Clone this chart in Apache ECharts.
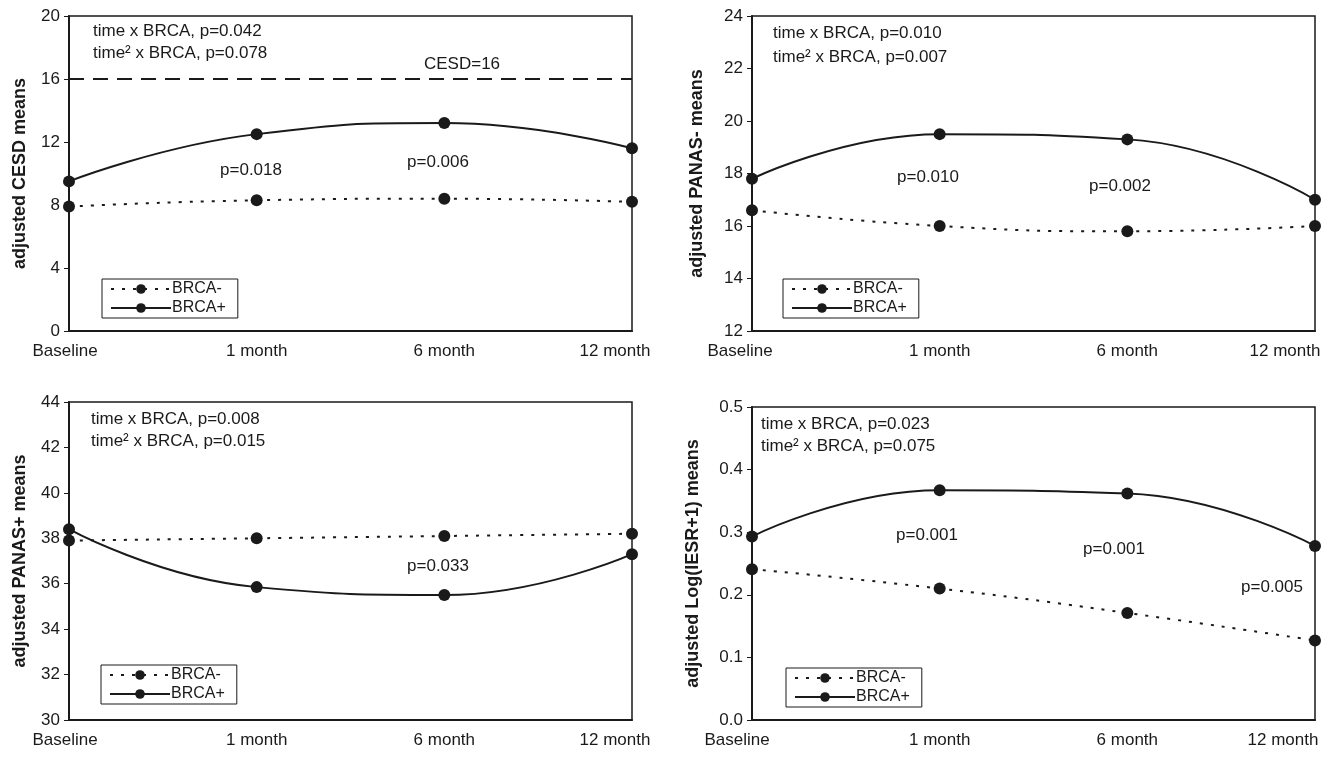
<!DOCTYPE html>
<html>
<head>
<meta charset="utf-8">
<title>BRCA adjusted means</title>
<script src="https://cdn.jsdelivr.net/npm/echarts@6/dist/echarts.min.js"></script>
<style>
  html, body { margin: 0; padding: 0; background: #fff; }
  #main { width: 1336px; height: 757px; }
</style>
</head>
<body>
<div id="main"></div>
<script>
// time points
var categories = ["Baseline", "1 month", "6 month", "12 month"];

// CESD
var cesdNeg = [7.9, 8.3, 8.4, 8.2];
var cesdPos = [9.5, 12.5, 13.2, 11.6];
var cesdCutoff = 16;

// PANAS-
var panasNegNeg = [16.6, 16.0, 15.8, 16.0];
var panasNegPos = [17.8, 19.5, 19.3, 17.0];

// PANAS+
var panasPosNeg = [37.9, 38.0, 38.1, 38.2];
var panasPosPos = [38.4, 35.85, 35.5, 37.3];

// Log(IESR+1)
var iesrNeg = [0.241, 0.21, 0.171, 0.127];
var iesrPos = [0.293, 0.367, 0.362, 0.278];

// y ranges: [min, max, interval]
var cesdRange = [0, 20, 4];
var panasNegRange = [12, 24, 2];
var panasPosRange = [30, 44, 2];
var iesrRange = [0, 0.5, 0.1];

var FONT = "'Liberation Sans', Arial, Helvetica, sans-serif";
var INK = "#1a1a1a";

var myChart = echarts.init(document.getElementById("main"));

// plot boxes of the four panels
var grids = [
  { left: 69, top: 16, width: 563, height: 315 },
  { left: 752, top: 16, width: 563, height: 315 },
  { left: 69, top: 402, width: 563, height: 318 },
  { left: 752, top: 407, width: 563, height: 313 }
];
// label shifts for first / last category (padding on the opposite side)
var labelPad = [
  [8, 34],
  [24, 60],
  [8, 34],
  [30, 64]
];

function xAxisFor(i) {
  var pad = labelPad[i];
  return {
    gridIndex: i,
    type: "category",
    data: categories,
    boundaryGap: false,
    axisLine: { lineStyle: { color: INK, width: 2 } },
    axisTick: { show: false },
    axisLabel: {
      margin: 12,
      interval: 0,
      color: INK,
      fontFamily: FONT,
      fontSize: 17,
      formatter: function (v, idx) {
        if (idx === 0) return "{first|" + v + "}";
        if (idx === categories.length - 1) return "{last|" + v + "}";
        return v;
      },
      rich: {
        first: { fontFamily: FONT, fontSize: 17, color: INK, padding: [0, pad[0], 0, 0] },
        last: { fontFamily: FONT, fontSize: 17, color: INK, padding: [0, pad[1], 0, 0] }
      }
    }
  };
}

function yAxisFor(i, range, title, gap, digits) {
  return {
    gridIndex: i,
    type: "value",
    min: range[0],
    max: range[1],
    interval: range[2],
    name: title,
    nameLocation: "middle",
    nameRotate: 90,
    nameGap: gap,
    nameTextStyle: { fontFamily: FONT, fontSize: 18, fontWeight: "bold", color: INK },
    splitLine: { show: false },
    axisLine: { show: true, lineStyle: { color: INK, width: 2 } },
    axisTick: { show: true, length: 5, lineStyle: { color: INK, width: 1 } },
    axisLabel: {
      margin: 9,
      color: INK,
      fontFamily: FONT,
      fontSize: 17,
      formatter: function (v) {
        return digits ? v.toFixed(digits) : String(v);
      }
    }
  };
}

function negSeries(i, data) {
  return {
    name: "BRCA-",
    type: "line",
    xAxisIndex: i,
    yAxisIndex: i,
    data: data,
    smooth: 0.5,
    symbol: "circle",
    symbolSize: 12,
    itemStyle: { color: INK },
    lineStyle: { color: INK, width: 2, type: [3, 8] },
    z: 3
  };
}

function posSeries(i, data) {
  return {
    name: "BRCA+",
    type: "line",
    xAxisIndex: i,
    yAxisIndex: i,
    data: data,
    smooth: 0.5,
    symbol: "circle",
    symbolSize: 12,
    itemStyle: { color: INK },
    lineStyle: { color: INK, width: 2, type: "solid" },
    z: 4
  };
}

function legendAt(left, top) {
  return {
    left: left,
    top: top,
    orient: "vertical",
    data: ["BRCA-", "BRCA+"],
    selectedMode: false,
    itemWidth: 60,
    itemHeight: 12,
    itemGap: 3,
    backgroundColor: "#fff",
    borderColor: INK,
    borderWidth: 1,
    borderRadius: 0,
    padding: [2, 12, 2, 8],
    textStyle: { fontFamily: FONT, fontSize: 16, color: INK, padding: [0, 0, 0, -4] }
  };
}

// text notes on the panels
function note(text, x, y, align) {
  return {
    type: "text",
    x: x,
    y: y,
    z: 10,
    style: {
      text: text,
      fill: INK,
      font: "17px " + FONT,
      align: align || "center",
      verticalAlign: "middle"
    }
  };
}

var cesdNegSeries = negSeries(0, cesdNeg);
cesdNegSeries.markLine = {
  silent: true,
  symbol: "none",
  label: { show: false },
  lineStyle: { color: INK, width: 2, type: [15, 9] },
  data: [{ yAxis: cesdCutoff }]
};

myChart.setOption({
  animation: false,
  backgroundColor: "#fff",
  grid: grids.map(function (g) {
    return {
      left: g.left,
      top: g.top,
      width: g.width,
      height: g.height,
      show: true,
      borderColor: INK,
      borderWidth: 1.5,
      backgroundColor: "transparent"
    };
  }),
  xAxis: [xAxisFor(0), xAxisFor(1), xAxisFor(2), xAxisFor(3)],
  yAxis: [
    yAxisFor(0, cesdRange, "adjusted CESD means", 40, 0),
    yAxisFor(1, panasNegRange, "adjusted PANAS- means", 46, 0),
    yAxisFor(2, panasPosRange, "adjusted PANAS+ means", 40, 0),
    yAxisFor(3, iesrRange, "adjusted Log(IESR+1) means", 50, 1)
  ],
  legend: [
    legendAt(102, 279),
    legendAt(783, 279),
    legendAt(101, 665),
    legendAt(786, 668)
  ],
  series: [
    cesdNegSeries,
    posSeries(0, cesdPos),
    negSeries(1, panasNegNeg),
    posSeries(1, panasNegPos),
    negSeries(2, panasPosNeg),
    posSeries(2, panasPosPos),
    negSeries(3, iesrNeg),
    posSeries(3, iesrPos)
  ],
  graphic: [
    note("time x BRCA, p=0.042", 93, 31, "left"),
    note("time\u00b2 x BRCA, p=0.078", 93, 53, "left"),
    note("CESD=16", 462, 64),
    note("p=0.018", 251, 170),
    note("p=0.006", 438, 162),

    note("time x BRCA, p=0.010", 773, 33, "left"),
    note("time\u00b2 x BRCA, p=0.007", 773, 57, "left"),
    note("p=0.010", 928, 177),
    note("p=0.002", 1120, 186),

    note("time x BRCA, p=0.008", 91, 419, "left"),
    note("time\u00b2 x BRCA, p=0.015", 91, 441, "left"),
    note("p=0.033", 438, 566),

    note("time x BRCA, p=0.023", 761, 424, "left"),
    note("time\u00b2 x BRCA, p=0.075", 761, 446, "left"),
    note("p=0.001", 927, 535),
    note("p=0.001", 1114, 549),
    note("p=0.005", 1272, 587)
  ]
});
</script>
</body>
</html>
